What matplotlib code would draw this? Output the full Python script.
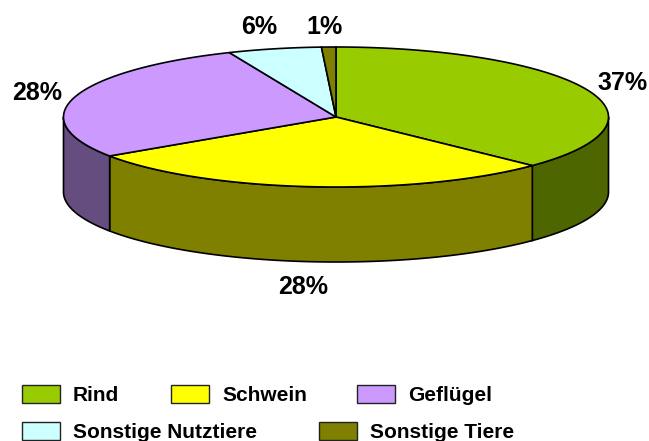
import numpy as np
import matplotlib
matplotlib.use("Agg")
import matplotlib.pyplot as plt
from matplotlib.patches import Polygon, Rectangle

# Share of meat by animal group, in percent
categories = ["Rind", "Schwein", "Geflügel", "Sonstige Nutztiere", "Sonstige Tiere"]
shares = [37.2, 28.4, 28.0, 5.55, 0.85]
top_colors = ["#99CC00", "#FFFF00", "#CC99FF", "#CCFFFF", "#808000"]
side_colors = ["#4D6600", "#808000", "#664D80", "#668080", "#404000"]

# Pie geometry in figure pixels
CX, CY, RX, RY, DEPTH = 336.0, 117.0, 272.5, 70.0, 75.0
EDGE = "#000000"
LW = 1.2

plt.rcParams["font.family"] = ["Liberation Sans", "DejaVu Sans"]

fig = plt.figure(figsize=(6.49, 4.41), dpi=100, facecolor="white")
ax = fig.add_axes([0, 0, 1, 1])
ax.set_xlim(0, 649)
ax.set_ylim(441, 0)
ax.axis("off")


def rim(a0, a1, n=200):
    """Points on the top ellipse, angle measured clockwise from twelve o'clock."""
    t = np.linspace(a0, a1, n)
    return CX + RX * np.sin(t), CY - RY * np.cos(t)


fractions = np.array(shares) / sum(shares)
edges = np.concatenate([[0.0], np.cumsum(fractions) * 2 * np.pi])

# Walls: only the front half of the rim (90 to 270 degrees) faces the viewer
for i in range(len(shares)):
    a0 = max(edges[i], np.pi / 2)
    a1 = min(edges[i + 1], 3 * np.pi / 2)
    if a1 <= a0:
        continue
    x, y = rim(a0, a1)
    pts = np.column_stack([np.r_[x, x[::-1]], np.r_[y, y[::-1] + DEPTH]])
    ax.add_patch(Polygon(pts, closed=True, facecolor=side_colors[i],
                         edgecolor=EDGE, linewidth=LW, zorder=2))

# Top face slices
for i in range(len(shares)):
    x, y = rim(edges[i], edges[i + 1])
    pts = np.column_stack([np.r_[CX, x], np.r_[CY, y]])
    ax.add_patch(Polygon(pts, closed=True, facecolor=top_colors[i],
                         edgecolor=EDGE, linewidth=LW, zorder=3))

# Percentage labels, anchored on their baselines
label_pos = [(623, 90), (303, 294), (37, 100), (259, 34), (324, 34)]
for share, (lx, ly) in zip(shares, label_pos):
    ax.text(lx, ly, f"{share:.0f}%", ha="center", va="baseline",
            fontsize=18, fontweight="bold", color="black", zorder=4)

# Legend, two rows; the lower row runs up against the bottom edge
legend_pos = [(22, 385), (171, 385), (357, 385), (22, 422), (319, 422)]
for name, color, (lx, ly) in zip(categories, top_colors, legend_pos):
    ax.add_patch(Rectangle((lx, ly), 38, 18, facecolor=color,
                           edgecolor="#222222", linewidth=1.0, zorder=4))
    ax.text(lx + 51, ly + 16, name, ha="left", va="baseline",
            fontsize=15, fontweight="bold", color="black", zorder=4)

fig.savefig("out.png", dpi=100, facecolor="white")
